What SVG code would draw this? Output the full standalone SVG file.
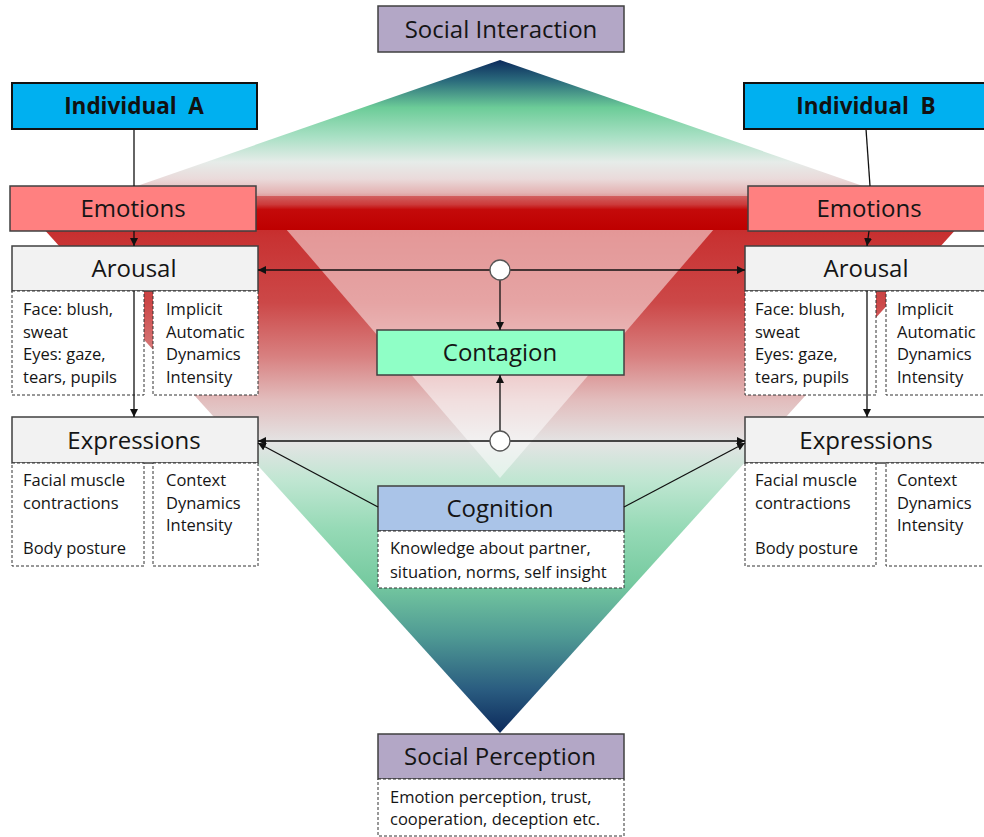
<svg xmlns="http://www.w3.org/2000/svg" width="984" height="837" viewBox="0 0 984 837">
<defs>
<style>
.t{font-family:"Open Sans","Liberation Sans",sans-serif;font-size:24px;fill:#151515;text-anchor:middle}
.b{font-family:"Open Sans","Liberation Sans",sans-serif;font-size:22.5px;font-weight:bold;fill:#111;text-anchor:middle}
.s{font-family:"Open Sans","Liberation Sans",sans-serif;font-size:16.5px;fill:#151515}
.box{stroke:#404040;stroke-width:1.5}
.dash{fill:#fff;stroke:#333;stroke-width:1;stroke-dasharray:3 2}
.c{stroke:#111;stroke-width:1.3;fill:none}
.ca{stroke:#111;stroke-width:1.3;fill:none;marker-end:url(#ah)}
.circ{fill:#fff;stroke:#555;stroke-width:1.3}
</style>
<marker id="ah" viewBox="0 0 8 8" refX="8" refY="4" markerWidth="8" markerHeight="8" markerUnits="userSpaceOnUse" orient="auto">
<path d="M0,0 L8,4 L0,8 z" fill="#111"/>
</marker>
<linearGradient id="gUp" gradientUnits="userSpaceOnUse" x1="0" y1="60" x2="0" y2="230">
<stop offset="0" stop-color="#0c2a5c"/>
<stop offset="0.12" stop-color="#2a6a7c"/>
<stop offset="0.28" stop-color="#6ccc98"/>
<stop offset="0.45" stop-color="#a8e0c4"/>
<stop offset="0.6" stop-color="#e6ece9"/>
<stop offset="0.7" stop-color="#eadada"/>
<stop offset="0.78" stop-color="#e4b4b4"/>
<stop offset="0.8" stop-color="#e0a0a0"/>
<stop offset="0.8" stop-color="#d26060"/>
<stop offset="0.85" stop-color="#cc3a3a"/>
<stop offset="0.88" stop-color="#c40a0a"/>
<stop offset="1" stop-color="#be0000"/>
</linearGradient>
<linearGradient id="gDown" gradientUnits="userSpaceOnUse" x1="0" y1="195" x2="0" y2="733">
<stop offset="0" stop-color="#c41c1c"/>
<stop offset="0.08" stop-color="#c83232"/>
<stop offset="0.2" stop-color="#cc4848"/>
<stop offset="0.3" stop-color="#d88080"/>
<stop offset="0.38" stop-color="#e2bcbc"/>
<stop offset="0.46" stop-color="#e4e4e4"/>
<stop offset="0.53" stop-color="#c0e6d2"/>
<stop offset="0.62" stop-color="#96dab6"/>
<stop offset="0.72" stop-color="#76caa0"/>
<stop offset="0.82" stop-color="#4f9a94"/>
<stop offset="0.92" stop-color="#2a5c80"/>
<stop offset="1" stop-color="#0c2a5c"/>
</linearGradient>
</defs>
<rect width="984" height="837" fill="#fff"/>
<g id="background">
<polygon points="13,195 987,195 500,733" fill="url(#gDown)"/>
<polygon points="261,200 739,200 500,478" fill="#fff" fill-opacity="0.5"/>
<polygon points="500,60 10,230 990,230" fill="url(#gUp)"/>
</g>
<g id="social-interaction">
<rect class="box" x="378" y="6" width="246" height="46" fill="#b3a7c6"/>
<text class="t" x="501" y="38">Social Interaction</text>
</g>
<g id="individual-a">
<rect x="12" y="83" width="245" height="46" fill="#00b0f0" stroke="#111" stroke-width="2"/>
<text class="b" x="134" y="114">Individual&#160; A</text>
</g>
<g id="individual-b">
<rect x="744" y="83" width="246" height="46" fill="#00b0f0" stroke="#111" stroke-width="2"/>
<text class="b" x="866" y="114">Individual&#160; B</text>
</g>
<g id="emotions-a">
<rect class="box" x="10" y="186" width="246" height="45" fill="#ff8080"/>
<text class="t" x="133" y="217">Emotions</text>
</g>
<g id="emotions-b">
<rect class="box" x="748" y="186" width="242" height="45" fill="#ff8080"/>
<text class="t" x="869" y="217">Emotions</text>
</g>
<g id="arousal-a">
<rect class="box" x="12" y="246" width="246" height="45" fill="#f2f2f2"/>
<text class="t" x="134" y="277">Arousal</text>
<rect class="dash" x="12" y="291" width="132" height="104"/>
<rect class="dash" x="153" y="291" width="105" height="104"/>
<text class="s" x="23" y="315">Face: blush,</text>
<text class="s" x="23" y="337.5">sweat</text>
<text class="s" x="23" y="360">Eyes: gaze,</text>
<text class="s" x="23" y="382.5">tears, pupils</text>
<text class="s" x="166" y="315">Implicit</text>
<text class="s" x="166" y="337.5">Automatic</text>
<text class="s" x="166" y="360">Dynamics</text>
<text class="s" x="166" y="382.5">Intensity</text>
</g>
<g id="arousal-b">
<rect class="box" x="745" y="246" width="245" height="45" fill="#f2f2f2"/>
<text class="t" x="866" y="277">Arousal</text>
<rect class="dash" x="745" y="291" width="131" height="104"/>
<rect class="dash" x="886" y="291" width="104" height="104"/>
<text class="s" x="755" y="315">Face: blush,</text>
<text class="s" x="755" y="337.5">sweat</text>
<text class="s" x="755" y="360">Eyes: gaze,</text>
<text class="s" x="755" y="382.5">tears, pupils</text>
<text class="s" x="897" y="315">Implicit</text>
<text class="s" x="897" y="337.5">Automatic</text>
<text class="s" x="897" y="360">Dynamics</text>
<text class="s" x="897" y="382.5">Intensity</text>
</g>
<g id="expressions-a">
<rect class="box" x="12" y="417" width="246" height="46" fill="#f2f2f2"/>
<text class="t" x="134" y="449">Expressions</text>
<rect class="dash" x="12" y="463" width="132" height="103"/>
<rect class="dash" x="153" y="463" width="105" height="103"/>
<text class="s" x="23" y="486">Facial muscle</text>
<text class="s" x="23" y="508.5">contractions</text>
<text class="s" x="23" y="553.5">Body posture</text>
<text class="s" x="166" y="486">Context</text>
<text class="s" x="166" y="508.5">Dynamics</text>
<text class="s" x="166" y="531">Intensity</text>
</g>
<g id="expressions-b">
<rect class="box" x="745" y="417" width="245" height="46" fill="#f2f2f2"/>
<text class="t" x="866" y="449">Expressions</text>
<rect class="dash" x="745" y="463" width="131" height="103"/>
<rect class="dash" x="886" y="463" width="104" height="103"/>
<text class="s" x="755" y="486">Facial muscle</text>
<text class="s" x="755" y="508.5">contractions</text>
<text class="s" x="755" y="553.5">Body posture</text>
<text class="s" x="897" y="486">Context</text>
<text class="s" x="897" y="508.5">Dynamics</text>
<text class="s" x="897" y="531">Intensity</text>
</g>
<g id="contagion">
<rect class="box" x="377" y="330" width="247" height="45" fill="#8fffc6"/>
<text class="t" x="500" y="361">Contagion</text>
</g>
<g id="cognition">
<rect class="box" x="378" y="486" width="246" height="45" fill="#aac4e8"/>
<text class="t" x="500" y="517">Cognition</text>
<rect class="dash" x="378" y="531" width="246" height="57"/>
<text class="s" x="390" y="554">Knowledge about partner,</text>
<text class="s" x="390" y="578">situation, norms, self insight</text>
</g>
<g id="social-perception">
<rect class="box" x="378" y="734" width="246" height="45" fill="#b3a7c6"/>
<text class="t" x="500" y="765">Social Perception</text>
<rect class="dash" x="378" y="779" width="246" height="57"/>
<text class="s" x="390" y="803">Emotion perception, trust,</text>
<text class="s" x="390" y="825">cooperation, deception etc.</text>
</g>
<g id="connectors">
<line class="c" x1="134" y1="129" x2="134" y2="186"/>
<line class="c" x1="866" y1="129" x2="870" y2="186"/>
<line class="ca" x1="134" y1="231" x2="134" y2="246"/>
<line class="ca" x1="869" y1="231" x2="867" y2="246"/>
<line class="ca" x1="134" y1="291" x2="134" y2="417"/>
<line class="ca" x1="867" y1="291" x2="867" y2="417"/>
<line class="ca" x1="490" y1="270" x2="258" y2="270"/>
<line class="ca" x1="510" y1="270" x2="745" y2="270"/>
<line class="ca" x1="500" y1="280" x2="500" y2="330"/>
<line class="ca" x1="490" y1="441" x2="258" y2="441"/>
<line class="ca" x1="510" y1="441" x2="745" y2="441"/>
<line class="ca" x1="500" y1="431" x2="500" y2="375"/>
<line class="ca" x1="378" y1="507" x2="258" y2="443"/>
<line class="ca" x1="624" y1="507" x2="745" y2="443"/>
<circle class="circ" cx="500" cy="270" r="10"/>
<circle class="circ" cx="500" cy="441" r="10"/>
</g>
</svg>
